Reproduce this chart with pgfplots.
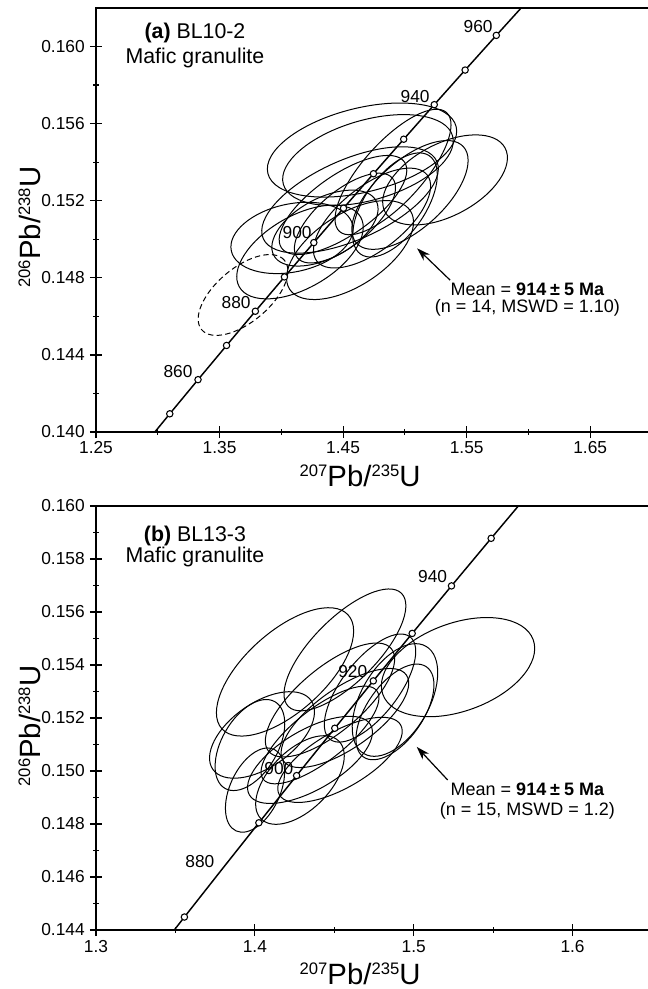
\documentclass[border=0pt]{standalone}
\usepackage{fontspec}
\setmainfont{Liberation Sans}
\usepackage{pgfplots}
\pgfplotsset{compat=1.18}
\usepackage{pgfplotstable}
\usetikzlibrary{arrows.meta}

% concordia curve (207Pb/235U, 206Pb/238U), 840-980 Ma every 10 Ma
\pgfplotstableread{
x y
1.28708 0.139176
1.30970 0.140944
1.33257 0.142716
1.35566 0.144490
1.37897 0.146266
1.40252 0.148046
1.42629 0.149828
1.45031 0.151613
1.47456 0.153401
1.49905 0.155192
1.52378 0.156985
1.54876 0.158781
1.57399 0.160580
1.59946 0.162382
1.62519 0.164190
}\concordia

\pgfplotstableread{
x y
1.30970 0.140944
1.33257 0.142716
1.35566 0.144490
1.37897 0.146266
1.40252 0.148046
1.42629 0.149828
1.45031 0.151613
1.47456 0.153401
1.49905 0.155192
1.52378 0.156985
1.54876 0.158781
1.57399 0.160580
}\ticksA

\pgfplotstableread{
x y
1.35566 0.144490
1.40252 0.148046
1.42629 0.149828
1.45031 0.151613
1.47456 0.153401
1.49905 0.155192
1.52378 0.156985
1.54876 0.158781
}\ticksB

% error ellipses: centre, semi-axes (px), tilt (deg)
\pgfplotstableread{
x y a b ang
1.4653 0.15463 97 42 14
1.4701 0.15411 88 40 16
1.5325 0.15308 68 36 28
1.4904 0.15349 80 30 48
1.5041 0.15230 72 34 42
1.4556 0.15204 95 40 24
1.4499 0.15178 75 30 35
1.4515 0.15110 62 27 40
1.4086 0.15007 62 34 12
1.4151 0.14934 70 36 30
1.4556 0.14944 72 36 33
1.4734 0.15110 70 32 38
1.4353 0.15058 58 30 28
1.4920 0.15178 60 30 55
}\ellA

\pgfplotstableread{
x y a b ang
1.3690 0.14711 54 27 40
}\ellAdash

\pgfplotstableread{
x y a b ang
1.5279 0.15392 80 44 20
1.4567 0.15457 80 32 45
1.4190 0.15374 85 40 42
1.4045 0.15136 60 32 35
1.4001 0.14928 45 25 65
1.4725 0.15313 65 28 52
1.4473 0.15268 80 32 40
1.4567 0.15200 75 30 35
1.4882 0.15268 62 34 60
1.4347 0.15042 70 30 30
1.4284 0.14966 55 30 45
1.4536 0.15042 70 28 30
1.3969 0.15098 50 28 60
1.4882 0.15223 55 28 55
1.4410 0.15136 72 26 38
}\ellB

\newdimen\ellRa
\newdimen\ellRb
\pgfdeclareplotmark{void}{}
\newcommand\ellcode[1]{%
  \pgfmathsetlength\ellRa{0.75*\ea}%
  \pgfmathsetlength\ellRb{0.75*\eb}%
  \pgfmathsetmacro\eangB{\eang+90}%
  \pgfsetlinewidth{0.75pt}\pgfsetstrokecolor{black}\pgfsetdash{#1}{0pt}%
  \pgfpathellipse{\pgfpointorigin}{\pgfpointpolar{\eang}{\ellRa}}{\pgfpointpolar{\eangB}{\ellRb}}%
  \pgfusepath{stroke}}

\pgfplotsset{
  ellipses/.style={
    only marks, scatter, mark=void,
    visualization depends on={\thisrow{a}\as\ea},
    visualization depends on={\thisrow{b}\as\eb},
    visualization depends on={\thisrow{ang}\as\eang},
    scatter/@pre marker code/.code={\ellcode{}},
    scatter/@post marker code/.code={},
  },
  dashed ellipses/.style={
    ellipses,
    scatter/@pre marker code/.code={\ellcode{{4pt}{2.5pt}}},
  },
  concax/.style={
    scale only axis, width=417pt, height=318pt, anchor=south west,
    axis line style={line width=1.2pt},
    tick style={black, line width=0.9pt},
    tick align=center, major tick length=9pt, minor tick length=4pt,
    tick pos=left,
    xticklabels={}, yticklabels={},
    clip mode=individual,
  },
}
\newcommand\iso[4]{{\fontsize{22}{24}\selectfont\raisebox{7.5pt}{\fontsize{12.5}{13}\selectfont #1}#2/\raisebox{7.5pt}{\fontsize{12.5}{13}\selectfont #3}#4}}
\newcommand\meanage{Mean = \textbf{914\hspace{0.22em}±\hspace{0.22em}5 Ma}}
\tikzset{age/.style={font=\fontsize{13}{14}\selectfont, anchor=center},
  tl/.style={font=\fontsize{13}{14}\selectfont, inner sep=0pt},
  note/.style={anchor=base, font=\fontsize{13.5}{15}\selectfont}}

\begin{document}
\begin{tikzpicture}
\useasboundingbox (0pt,0pt) rectangle (485.25pt,-741.75pt);
% ---------- (a) ----------
\begin{axis}[concax, at={(72pt,-324pt)},
  xmin=1.25, xmax=1.70, ymin=0.140, ymax=0.162,
  xtick={1.25,1.35,1.45,1.55,1.65}, minor xtick={1.30,1.40,1.50,1.60},
  ytick={0.140,0.144,0.148,0.152,0.156,0.160}, minor ytick={0.142,0.146,0.150,0.154,0.158},
]
\addplot[ellipses] table {\ellA};
\addplot[dashed ellipses] table {\ellAdash};
\addplot[black, line width=1.1pt, no marks] table {\concordia};
\addplot[only marks, mark=*, mark size=2.4pt, mark options={fill=white, draw=black, line width=0.8pt}] table {\ticksA};
\pgfplotsinvokeforeach{1.25,1.35,1.45,1.55,1.65}{
  \node[tl, anchor=base] at (axis cs:#1,0.140) [yshift=-15.75pt] {#1};}
\pgfplotsinvokeforeach{0.140,0.144,0.148,0.152,0.156,0.160}{
  \node[tl, anchor=east] at (axis cs:1.25,#1) [xshift=-8.25pt] {#1};}
\node[age] at (axis cs:1.5593,0.16104) {960};
\node[age] at (axis cs:1.5083,0.15741) {940};
\node[age] at (axis cs:1.4128,0.15036) {900};
\node[age] at (axis cs:1.3634,0.14674) {880};
\node[age] at (axis cs:1.3164,0.14316) {860};
\node[anchor=base, font=\fontsize{16}{18}\selectfont] at (rel axis cs:0.178,0.927) {\textbf{(a)} BL10-2};
\node[anchor=base, font=\fontsize{16}{18}\selectfont] at (rel axis cs:0.178,0.870) {Mafic granulite};
\draw[-{Stealth[length=10pt,width=6.5pt]}, line width=0.9pt] (axis cs:1.5366,0.14788) -- (axis cs:1.5099,0.14953);
\node[note] at (rel axis cs:0.776,0.323) {\meanage};
\node[note] at (rel axis cs:0.776,0.281) {(n = 14, MSWD = 1.10)};
\node[anchor=base] at (rel axis cs:0.475,-0.1297) {\iso{207}{Pb}{235}{U}};
\node[anchor=base, rotate=90] at (rel axis cs:-0.1007,0.483) {\iso{206}{Pb}{238}{U}};
\end{axis}
% ---------- (b) ----------
\begin{axis}[concax, at={(72pt,-697.5pt)},
  xmin=1.30, xmax=1.65, ymin=0.144, ymax=0.160,
  xtick={1.3,1.4,1.5,1.6}, minor xtick={1.35,1.45,1.55,1.65},
  ytick={0.144,0.146,0.148,0.150,0.152,0.154,0.156,0.158,0.160},
  minor ytick={0.145,0.147,0.149,0.151,0.153,0.155,0.157,0.159},
]
\addplot[ellipses] table {\ellB};
\addplot[black, line width=1.1pt, no marks] table {\concordia};
\addplot[only marks, mark=*, mark size=2.4pt, mark options={fill=white, draw=black, line width=0.8pt}] table {\ticksB};
\pgfplotsinvokeforeach{1.3,1.4,1.5,1.6}{
  \node[tl, anchor=base] at (axis cs:#1,0.144) [yshift=-16.5pt] {#1};}
\pgfplotsinvokeforeach{0.144,0.146,0.148,0.150,0.152,0.154,0.156,0.158,0.160}{
  \node[tl, anchor=east] at (axis cs:1.30,#1) [xshift=-8.25pt] {#1};}
\node[age] at (axis cs:1.5119,0.15732) {940};
\node[age] at (axis cs:1.4616,0.15374) {920};
\node[age] at (axis cs:1.4151,0.15011) {900};
\node[age] at (axis cs:1.3654,0.14657) {880};
\node[anchor=base, font=\fontsize{16}{18}\selectfont] at (rel axis cs:0.178,0.917) {\textbf{(b)} BL13-3};
\node[anchor=base, font=\fontsize{16}{18}\selectfont] at (rel axis cs:0.178,0.866) {Mafic granulite};
\draw[-{Stealth[length=10pt,width=6.5pt]}, line width=0.9pt] (axis cs:1.5214,0.14966) -- (axis cs:1.5019,0.15091);
\node[note] at (rel axis cs:0.776,0.318) {\meanage};
\node[note] at (rel axis cs:0.776,0.271) {(n = 15, MSWD = 1.2)};
\node[anchor=base] at (rel axis cs:0.475,-0.1285) {\iso{207}{Pb}{235}{U}};
\node[anchor=base, rotate=90] at (rel axis cs:-0.1007,0.481) {\iso{206}{Pb}{238}{U}};
\end{axis}
\end{tikzpicture}
\end{document}
